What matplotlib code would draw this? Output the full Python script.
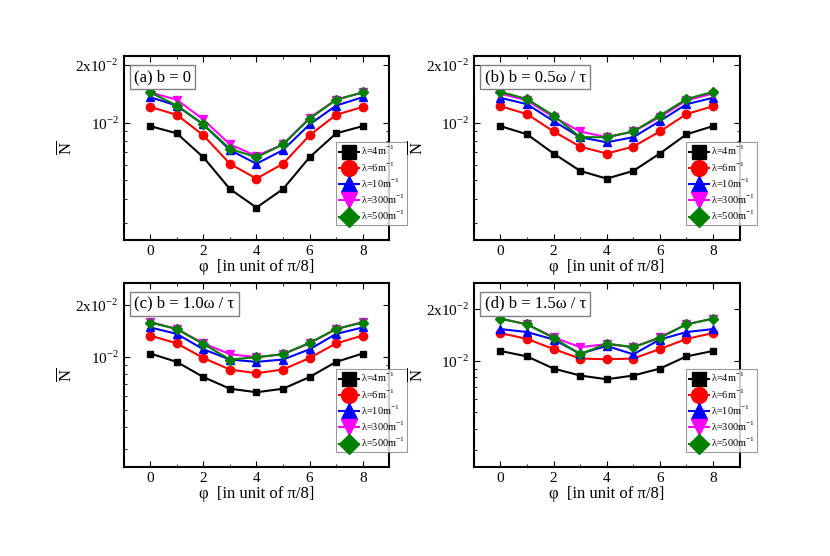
import matplotlib
matplotlib.use("Agg")
import matplotlib.pyplot as plt
from matplotlib.ticker import FixedLocator, NullFormatter, LogLocator

plt.rcParams['font.family'] = 'Liberation Serif'
plt.rcParams['mathtext.fontset'] = 'custom'
plt.rcParams['mathtext.rm'] = 'Liberation Serif'

phi = [0, 1, 2, 3, 4, 5, 6, 7, 8]
labels = ['λ=4m$^{-1}$', 'λ=6m$^{-1}$', 'λ=10m$^{-1}$', 'λ=300m$^{-1}$', 'λ=500m$^{-1}$']
titles = ['(a) b = 0', '(b) b = 0.5ω / τ', '(c) b = 1.0ω / τ', '(d) b = 1.5ω / τ']

a_l4 = [0.0096, 0.0088, 0.0066, 0.0045, 0.0036, 0.0045, 0.0066, 0.0088, 0.0096]
a_l6 = [0.0121, 0.0110, 0.0086, 0.0061, 0.0051, 0.0061, 0.0086, 0.0110, 0.0121]
a_l10 = [0.0136, 0.0123, 0.0098, 0.0072, 0.0061, 0.0072, 0.0098, 0.0123, 0.0136]
a_l300 = [0.0144, 0.0132, 0.0104, 0.0077, 0.0067, 0.0077, 0.0106, 0.0132, 0.0144]
a_l500 = [0.0144, 0.0123, 0.0098, 0.0073, 0.0066, 0.0077, 0.0105, 0.0132, 0.0144]

b_l4 = [0.0096, 0.0087, 0.0069, 0.0056, 0.0051, 0.0056, 0.0069, 0.0087, 0.0096]
b_l6 = [0.0122, 0.0111, 0.0090, 0.0075, 0.0069, 0.0075, 0.0090, 0.0111, 0.0122]
b_l10 = [0.0135, 0.0125, 0.0102, 0.0084, 0.0079, 0.0084, 0.0102, 0.0125, 0.0135]
b_l300 = [0.0142, 0.0131, 0.0107, 0.0090, 0.0084, 0.0090, 0.0107, 0.0131, 0.0142]
b_l500 = [0.0145, 0.0133, 0.0109, 0.0084, 0.0084, 0.0090, 0.0109, 0.0133, 0.0145]

c_l4 = [0.0105, 0.0094, 0.0077, 0.0066, 0.0063, 0.0066, 0.0077, 0.0094, 0.0105]
c_l6 = [0.0133, 0.0120, 0.0099, 0.0085, 0.0081, 0.0085, 0.0099, 0.0120, 0.0133]
c_l10 = [0.0148, 0.0136, 0.0111, 0.0097, 0.0094, 0.0097, 0.0111, 0.0136, 0.0148]
c_l300 = [0.0159, 0.0145, 0.0120, 0.0104, 0.0100, 0.0104, 0.0120, 0.0145, 0.0159]
c_l500 = [0.0158, 0.0145, 0.0119, 0.0097, 0.0100, 0.0104, 0.0121, 0.0145, 0.0158]

d_l4 = [0.0114, 0.0106, 0.0090, 0.0082, 0.0078, 0.0082, 0.0090, 0.0106, 0.0114]
d_l6 = [0.0145, 0.0134, 0.0117, 0.0103, 0.0102, 0.0103, 0.0117, 0.0134, 0.0145]
d_l10 = [0.0153, 0.0147, 0.0133, 0.0110, 0.0122, 0.0109, 0.0133, 0.0147, 0.0153]
d_l300 = [0.0176, 0.0163, 0.0137, 0.0120, 0.0125, 0.0120, 0.0137, 0.0163, 0.0176]
d_l500 = [0.0176, 0.0163, 0.0136, 0.0109, 0.0126, 0.0120, 0.0136, 0.0163, 0.0176]

data = [[a_l4, a_l6, a_l10, a_l300, a_l500],
        [b_l4, b_l6, b_l10, b_l300, b_l500],
        [c_l4, c_l6, c_l10, c_l300, c_l500],
        [d_l4, d_l6, d_l10, d_l300, d_l500]]
ylims = [(0.00243, 0.0223), (0.00243, 0.0223), (0.00235, 0.0266), (0.0024, 0.0284)]

colors = ['black', 'red', 'blue', 'magenta', 'green']
markers = ['s', 'o', '^', 'v', 'D']
msizes = [5, 6, 6, 6, 5.5]

fig = plt.figure(figsize=(8.3, 5.56), dpi=100)
positions = [(0.149, 0.568), (0.571, 0.568), (0.149, 0.160), (0.571, 0.160)]
for i, (l, b) in enumerate(positions):
    ax = fig.add_axes([l, b, 0.320, 0.331])
    for s in range(5):
        ax.plot(phi, data[i][s], color=colors[s], marker=markers[s], ms=msizes[s], lw=1.5, label=labels[s])
    ax.set_yscale('log')
    ax.set_ylim(*ylims[i])
    ax.set_xlim(-1, 9)
    ax.set_xticks([0, 2, 4, 6, 8])
    ax.xaxis.set_minor_locator(FixedLocator([-1, 1, 3, 5, 7, 9]))
    ax.yaxis.set_major_locator(FixedLocator([0.01, 0.02]))
    ax.set_yticklabels(['10$^{-2}$', '2x10$^{-2}$'])
    ax.yaxis.set_minor_locator(LogLocator(base=10, subs=[1, 2, 3, 4, 5, 6, 7, 8, 9]))
    ax.yaxis.set_minor_formatter(NullFormatter())
    ax.tick_params(which='both', direction='in', top=True, right=True, labelsize=11)
    ax.tick_params(which='major', length=4)
    ax.tick_params(which='minor', length=2)
    for sp in ax.spines.values():
        sp.set_linewidth(1.5)
    ax.set_xlabel('φ  [in unit of π/8]', fontsize=12, labelpad=1)
    ax.set_ylabel(r'$\overline{\rm N}$', fontsize=12, labelpad=0)
    ax.text(0.04, 0.93, titles[i], transform=ax.transAxes, fontsize=12, va='top', ha='left',
            bbox=dict(facecolor='white', edgecolor='gray', boxstyle='square,pad=0.25'))
    leg = ax.legend(loc='upper left', bbox_to_anchor=(0.80, 0.535), fontsize=7.5, markerscale=1.9,
                    handlelength=1.9, frameon=True, fancybox=False, edgecolor='gray',
                    borderpad=0.25, labelspacing=0.3, handletextpad=0.2, borderaxespad=0)
    leg.get_frame().set_linewidth(0.8)
    leg.set_zorder(10)

fig.savefig('out.png', dpi=100)
